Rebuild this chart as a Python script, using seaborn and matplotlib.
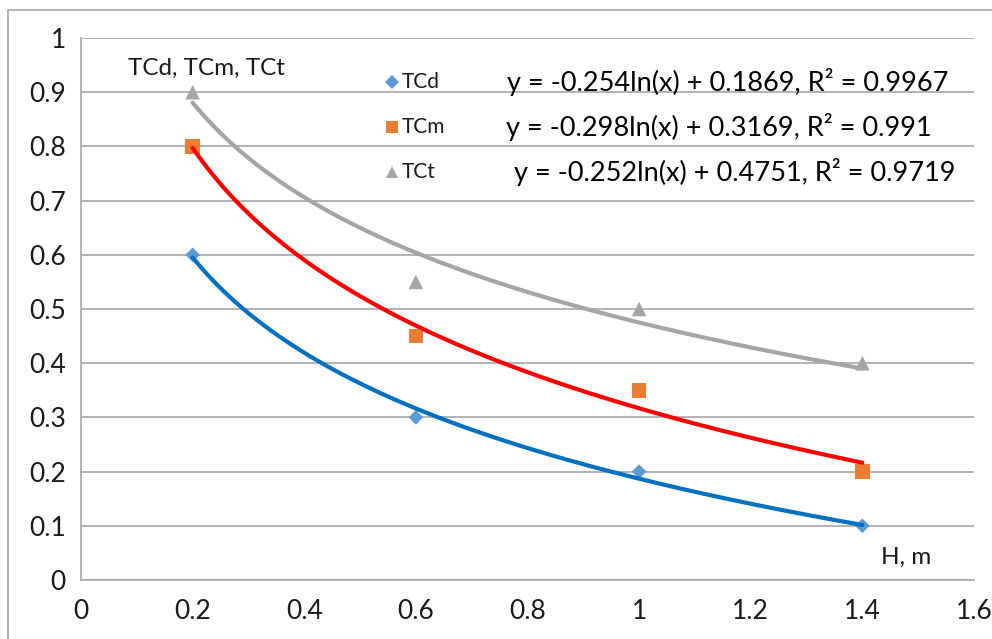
import numpy as np
import pandas as pd
import matplotlib
matplotlib.use("Agg")
import matplotlib.pyplot as plt
import seaborn as sns
from matplotlib.patches import Rectangle

H = [0.2, 0.6, 1.0, 1.4]
TCd = [0.6, 0.3, 0.2, 0.1]
TCm = [0.8, 0.45, 0.35, 0.2]
TCt = [0.9, 0.55, 0.5, 0.4]
series_names = ["TCd", "TCm", "TCt"]
equations = ["y = -0.254ln(x) + 0.1869, R² = 0.9967",
             "y = -0.298ln(x) + 0.3169, R² = 0.991",
             "y = -0.252ln(x) + 0.4751, R² = 0.9719"]
x_ticks = [0, 0.2, 0.4, 0.6, 0.8, 1, 1.2, 1.4, 1.6]
y_ticks = [0, 0.1, 0.2, 0.3, 0.4, 0.5, 0.6, 0.7, 0.8, 0.9, 1]

sns.set_theme(style="white")
FONT = ["Lato", "DejaVu Sans"]
plt.rcParams["font.family"] = FONT

W, Hpx = 992, 639
def fx(px):
    return px / W
def fy(py):
    return 1 - py / Hpx

marker_colors = ["#5B9BD5", "#ED7D31", "#A5A5A5"]
line_colors = ["#0070C0", "#FF0000", "#A5A5A5"]
markers = ["D", "s", "^"]
msizes = [55, 110, 110]

fig = plt.figure(figsize=(9.92, 6.39), dpi=100)
ax = fig.add_axes([fx(81), fy(580), (974-81)/W, (580-38)/Hpx])

fig.patches.append(Rectangle((fx(8), -0.1), 1.2, fy(10)+0.1, transform=fig.transFigure,
                             fill=False, edgecolor="#A6A6A6", lw=1.2, zorder=-1))

data = {"TCd": TCd, "TCm": TCm, "TCt": TCt}
xs = np.linspace(min(H), max(H), 200)
for i, name in enumerate(series_names):
    df = pd.DataFrame({"H": H, "TC": data[name]})
    sns.scatterplot(data=df, x="H", y="TC", ax=ax, marker=markers[i], s=msizes[i],
                    color=marker_colors[i], edgecolor="none", zorder=3, linewidth=0)
for i, name in enumerate(series_names):
    b, a = np.polyfit(np.log(H), data[name], 1)
    dfl = pd.DataFrame({"x": xs, "y": a + b*np.log(xs)})
    sns.lineplot(data=dfl, x="x", y="y", ax=ax, color=line_colors[i], lw=3, zorder=4)

ax.set_xlim(0, 1.6)
ax.set_ylim(0, 1)
ax.set_xticks(x_ticks)
ax.set_yticks(y_ticks)
ax.set_xticklabels([f"{v:g}" for v in x_ticks])
ax.set_yticklabels([f"{v:g}" for v in y_ticks])
ax.set_xlabel("")
ax.set_ylabel("")
ax.yaxis.grid(True, color="#A6A6A6", lw=1.2)
ax.xaxis.grid(False)
for s in ["top", "right"]:
    ax.spines[s].set_visible(False)
for s in ["left", "bottom"]:
    ax.spines[s].set_color("#A6A6A6")
    ax.spines[s].set_linewidth(1.2)
ax.tick_params(axis="both", colors="#A6A6A6", labelcolor="#1A1A1A", labelsize=19,
               direction="out", length=8, width=1.2)
ax.tick_params(axis="x", pad=6)
ax.tick_params(axis="y", pad=3)

# axis titles inside plot area
fig.text(fx(128), fy(68), "TCd, TCm, TCt", fontsize=17.5, color="#1A1A1A",
         va="center", ha="left")
fig.text(fx(881), fy(557), "H, m", fontsize=17.5, color="#1A1A1A",
         va="center", ha="left")

# legend
leg_y = [82, 127, 172]
for i, name in enumerate(series_names):
    fig.lines.append(matplotlib.lines.Line2D([fx(392)], [fy(leg_y[i])], transform=fig.transFigure,
                                             marker=markers[i], markersize=[7, 9, 9][i],
                                             color=marker_colors[i], markeredgewidth=0, lw=0))
    fig.text(fx(402), fy(leg_y[i]), name, fontsize=15, color="#1A1A1A",
             va="center", ha="left")

eq_x = [507, 506, 514]
for i, eq in enumerate(equations):
    fig.text(fx(eq_x[i]), fy(leg_y[i]), eq, fontsize=19.5, color="#000000",
             va="center", ha="left")

fig.savefig("out.png", dpi=100)
